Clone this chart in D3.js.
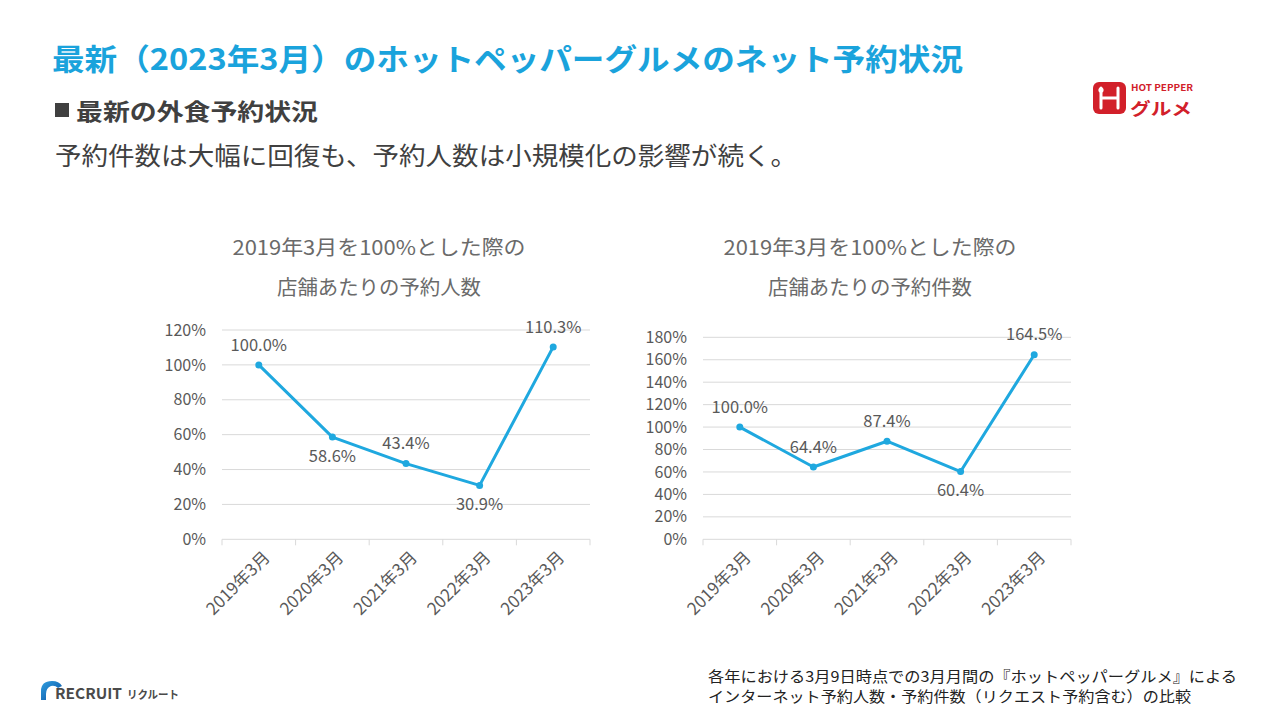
<!DOCTYPE html>
<html><head><meta charset="utf-8">
<script src="https://cdn.jsdelivr.net/npm/d3@7"></script>
<style>
html,body{margin:0;padding:0;background:#fff;}
svg text{font-family:"Noto Sans CJK JP","Noto Sans",sans-serif;}
</style></head>
<body><svg id="c" width="1280" height="720"></svg>
<script>
const categories = ["2019年3月","2020年3月","2021年3月","2022年3月","2023年3月"];
const peopleValues = [100.0, 58.6, 43.4, 30.9, 110.3];
const bookingValues = [100.0, 64.4, 87.4, 60.4, 164.5];
const peopleLabelPos = ["above","below","above","below","above"];
const bookingLabelPos = ["above","above","above","below","above"];
const peopleTicks = [0,20,40,60,80,100,120];
const bookingTicks = [0,20,40,60,80,100,120,140,160,180];
const peopleTitle = ["2019年3月を100%とした際の","店舗あたりの予約人数"];
const bookingTitle = ["2019年3月を100%とした際の","店舗あたりの予約件数"];

const svg = d3.select("#c");
const BLUE = "#1FA8DF", GRAY = "#595959";

// Header texts
svg.append("text").attr("x",52).attr("y",70).attr("font-size",30).attr("font-weight","bold")
  .attr("fill","#1AA3DC").attr("textLength",911).attr("lengthAdjust","spacingAndGlyphs")
  .text("最新（2023年3月）のホットペッパーグルメのネット予約状況");
svg.append("rect").attr("x",55).attr("y",103).attr("width",14).attr("height",14).attr("fill","#404040");
svg.append("text").attr("x",76).attr("y",120).attr("font-size",23).attr("font-weight","bold")
  .attr("fill","#404040").attr("textLength",242).attr("lengthAdjust","spacingAndGlyphs")
  .text("最新の外食予約状況");
svg.append("text").attr("x",55).attr("y",165).attr("font-size",25)
  .attr("fill","#404040").attr("textLength",742).attr("lengthAdjust","spacingAndGlyphs")
  .text("予約件数は大幅に回復も、予約人数は小規模化の影響が続く。");

// footnote
svg.append("text").attr("x",708).attr("y",682).attr("font-size",15).attr("fill","#222")
  .attr("textLength",529).attr("lengthAdjust","spacingAndGlyphs")
  .text("各年における3月9日時点での3月月間の『ホットペッパーグルメ』による");
svg.append("text").attr("x",708).attr("y",702).attr("font-size",15).attr("fill","#222")
  .attr("textLength",483).attr("lengthAdjust","spacingAndGlyphs")
  .text("インターネット予約人数・予約件数（リクエスト予約含む）の比較");

// Hot pepper logo
const lg = svg.append("g");
lg.append("rect").attr("x",1093).attr("y",82).attr("width",33).attr("height",32).attr("rx",6).attr("fill","#D2202A");
lg.append("path").attr("d","M1101,88 L1101,108 M1118,88 L1118,108 M1101,98 L1118,98")
  .attr("stroke","#fff").attr("stroke-width",3).attr("fill","none").attr("stroke-linecap","round");
lg.append("circle").attr("cx",1101).attr("cy",90).attr("r",2.6).attr("fill","#fff");
lg.append("text").attr("x",1131).attr("y",91).attr("font-size",9).attr("font-weight","bold")
  .attr("fill","#D2202A").attr("textLength",62).attr("lengthAdjust","spacingAndGlyphs").text("HOT PEPPER");
lg.append("text").attr("x",1130).attr("y",115).attr("font-size",17).attr("font-weight","bold")
  .attr("fill","#D2202A").attr("textLength",62).attr("lengthAdjust","spacingAndGlyphs").text("グルメ");

// Recruit logo
const defs = svg.append("defs");
const gr = defs.append("linearGradient").attr("id","rg").attr("x1","0").attr("y1","0").attr("x2","1").attr("y2","1");
gr.append("stop").attr("offset","0").attr("stop-color","#2F9FE0");
gr.append("stop").attr("offset","1").attr("stop-color","#0B4FA0");
svg.append("path").attr("d","M41,700 L41,691 Q41,681 52,681 Q59,681 62,686 L58,688 Q55,685 51,686 Q46,688 46,694 L46,700 Z")
  .attr("fill","url(#rg)");
svg.append("text").attr("x",55).attr("y",699).attr("font-size",15).attr("font-weight","bold")
  .attr("fill","#4a4a4a").attr("textLength",67).attr("lengthAdjust","spacingAndGlyphs").text("RECRUIT");
svg.append("text").attr("x",127).attr("y",699).attr("font-size",11).attr("font-weight","bold")
  .attr("fill","#4a4a4a").attr("textLength",52).attr("lengthAdjust","spacingAndGlyphs").text("リクルート");

function drawChart(opts){
  const {x0,x1,y0,y1,ticks,values,labelPos,title,titleCx} = opts;
  const g = svg.append("g");
  const x = d3.scaleBand().domain(categories).range([x0,x1]);
  const y = d3.scaleLinear().domain([0, d3.max(ticks)]).range([y0,y1]);

  // title
  const tl = [293, 204];
  title.forEach((t,i)=>{
    g.append("text").attr("x",titleCx).attr("y",248+i*40).attr("dy","0.35em")
      .attr("text-anchor","middle").attr("font-size",20).attr("fill","#6a6a6a")
      .attr("textLength",tl[i]).attr("lengthAdjust","spacingAndGlyphs").text(t);
  });

  // gridlines
  g.selectAll(".grid").data(ticks.filter(t=>t>0)).join("line")
    .attr("x1",x0).attr("x2",x1).attr("y1",d=>y(d)).attr("y2",d=>y(d))
    .attr("stroke","#D9D9D9").attr("stroke-width",1);

  // y axis labels
  const yAxis = d3.axisLeft(y).tickValues(ticks).tickFormat(d=>d+"%").tickSize(0).tickPadding(16);
  const ya = g.append("g").attr("transform",`translate(${x0},0)`).call(yAxis);
  ya.select(".domain").remove();
  ya.selectAll("text").attr("font-size",16).attr("fill",GRAY)
    .style("font-family",'"Noto Sans CJK JP","Noto Sans",sans-serif');

  // x axis
  const xa = g.append("g").attr("transform",`translate(0,${y0})`);
  xa.append("line").attr("x1",x0).attr("x2",x1).attr("stroke","#D9D9D9").attr("stroke-width",1);
  const bounds = categories.map(c=>x(c)).concat([x1]);
  xa.selectAll(".tk").data(bounds).join("line").attr("x1",d=>d).attr("x2",d=>d)
    .attr("y1",0).attr("y2",6).attr("stroke","#D9D9D9");
  xa.selectAll(".xl").data(categories).join("text")
    .attr("transform",d=>`translate(${x(d)+x.bandwidth()/2+8},${15}) rotate(-45)`)
    .attr("text-anchor","end").attr("dy","0.35em").attr("font-size",17).attr("fill",GRAY).text(d=>d);

  // line
  const pts = categories.map((c,i)=>[x(c)+x.bandwidth()/2, y(values[i])]);
  g.append("path").datum(pts).attr("d",d3.line()).attr("fill","none")
    .attr("stroke",BLUE).attr("stroke-width",3).attr("stroke-linejoin","round");
  g.selectAll(".pt").data(pts).join("circle").attr("cx",d=>d[0]).attr("cy",d=>d[1]).attr("r",3.5).attr("fill",BLUE);

  // data labels
  g.selectAll(".dl").data(pts).join("text")
    .attr("x",d=>d[0]).attr("y",(d,i)=>d[1] + (labelPos[i]==="above" ? -20 : 19))
    .attr("dy","0.35em").attr("text-anchor","middle").attr("font-size",16.5).attr("fill",GRAY)
    .text((d,i)=>values[i].toFixed(1)+"%");
}

drawChart({x0:222,x1:590,y0:539.3,y1:330,ticks:peopleTicks,values:peopleValues,labelPos:peopleLabelPos,title:peopleTitle,titleCx:379});
drawChart({x0:703,x1:1071,y0:539.3,y1:337.3,ticks:bookingTicks,values:bookingValues,labelPos:bookingLabelPos,title:bookingTitle,titleCx:870});
</script></body></html>
